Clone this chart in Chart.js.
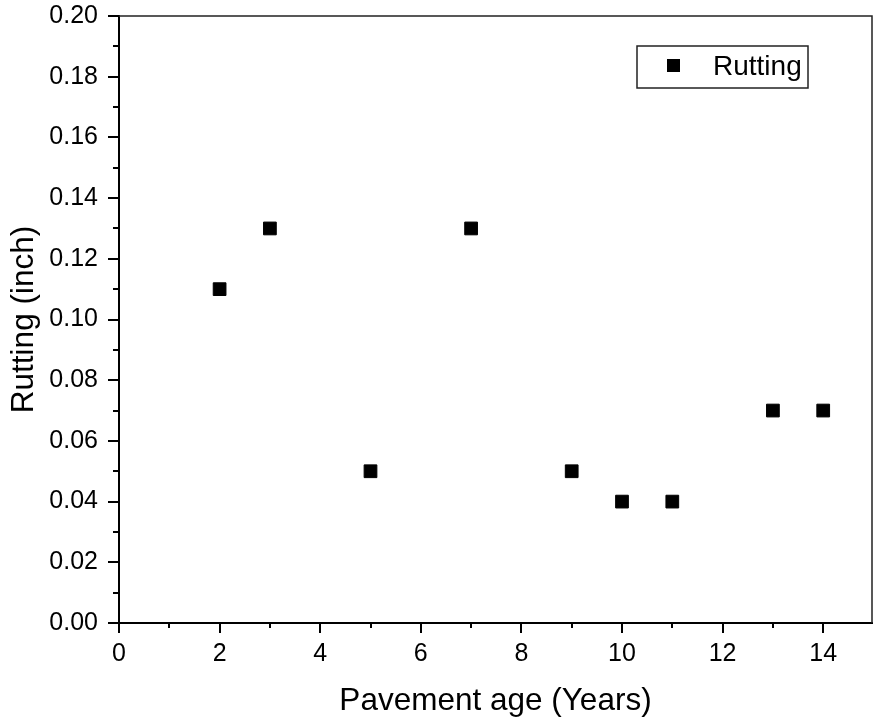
<!DOCTYPE html>
<html>
<head>
<meta charset="utf-8">
<script src="https://cdn.jsdelivr.net/npm/chart.js@4.4.1/dist/chart.umd.min.js"></script>
<style>
  html, body { margin: 0; padding: 0; background: #fff; }
  #wrap { width: 873px; height: 723px; position: relative; }
</style>
</head>
<body>
<div id="wrap"><canvas id="c" width="873" height="723"></canvas></div>
<script>
// Pavement age (years) and measured rutting depth (inch)
const ages = [2, 3, 5, 7, 9, 10, 11, 13, 14];
const rutting = [0.11, 0.13, 0.05, 0.13, 0.05, 0.04, 0.04, 0.07, 0.07];
const seriesName = 'Rutting';

// Axis ticks
const xMajor = [0, 2, 4, 6, 8, 10, 12, 14];
const xMinor = [1, 3, 5, 7, 9, 11, 13];
const yMajor = [0, 0.02, 0.04, 0.06, 0.08, 0.10, 0.12, 0.14, 0.16, 0.18, 0.20];
const yMinor = [0.01, 0.03, 0.05, 0.07, 0.09, 0.11, 0.13, 0.15, 0.17, 0.19];

const FONT = '"Liberation Sans", Arial, Helvetica, sans-serif';

// Frame (top/right), minor ticks and the boxed legend
const framePlugin = {
  id: 'frame',
  afterDraw(chart) {
    const ctx = chart.ctx;
    const a = chart.chartArea;
    const xs = chart.scales.x, ys = chart.scales.y;
    ctx.save();
    ctx.strokeStyle = '#222';
    ctx.lineWidth = 1.5;
    ctx.beginPath();
    ctx.moveTo(a.left, a.top);
    ctx.lineTo(a.right, a.top);
    ctx.lineTo(a.right, a.bottom);
    ctx.stroke();

    ctx.strokeStyle = '#000';
    ctx.lineWidth = 2;
    ctx.beginPath();
    xMinor.forEach(v => {
      const px = Math.round(xs.getPixelForValue(v));
      ctx.moveTo(px, a.bottom);
      ctx.lineTo(px, a.bottom + 5);
    });
    yMinor.forEach(v => {
      const py = Math.round(ys.getPixelForValue(v));
      ctx.moveTo(a.left, py);
      ctx.lineTo(a.left - 6, py);
    });
    ctx.stroke();

    // legend
    ctx.lineWidth = 1.5;
    ctx.strokeStyle = '#222';
    ctx.strokeRect(637, 46, 171, 42);
    ctx.fillStyle = '#000';
    ctx.fillRect(667, 59, 13, 13);
    ctx.font = '28px ' + FONT;
    ctx.textBaseline = 'alphabetic';
    ctx.textAlign = 'left';
    ctx.fillText(chart.data.datasets[0].label, 713, 75);
    ctx.restore();
  }
};

new Chart(document.getElementById('c'), {
  type: 'scatter',
  data: {
    datasets: [{
      label: seriesName,
      data: ages.map((a, i) => ({ x: a, y: rutting[i] })),
      pointStyle: 'rect',
      pointRadius: 9,
      pointHoverRadius: 9,
      backgroundColor: '#000',
      borderColor: '#000',
      borderWidth: 1
    }]
  },
  options: {
    responsive: false,
    animation: false,
    events: [],
    layout: { autoPadding: false, padding: { top: 16, right: 1, left: 0, bottom: 0 } },
    plugins: { legend: { display: false }, tooltip: { enabled: false } },
    scales: {
      x: {
        type: 'linear',
        min: 0,
        max: 14.97,
        afterBuildTicks: s => { s.ticks = xMajor.map(v => ({ value: v })); },
        afterFit: s => { s.height = 100; s.paddingLeft = 0; s.paddingRight = 0; },
        ticks: {
          color: '#000',
          font: { family: FONT, size: 25 },
          padding: 6,
          maxRotation: 0,
          callback: v => String(v)
        },
        grid: {
          display: true,
          drawOnChartArea: false,
          drawTicks: true,
          tickLength: 10,
          lineWidth: 2,
          color: '#000'
        },
        border: { display: true, width: 2, color: '#000' },
        title: {
          display: true,
          text: 'Pavement age (Years)',
          color: '#000',
          font: { family: FONT, size: 31.5 },
          padding: { top: 0, bottom: 3 }
        }
      },
      y: {
        type: 'linear',
        min: 0,
        max: 0.2,
        afterBuildTicks: s => { s.ticks = yMajor.map(v => ({ value: v })); },
        afterFit: s => { s.width = 119; s.paddingTop = 0; s.paddingBottom = 0; },
        ticks: {
          color: '#000',
          font: { family: FONT, size: 25 },
          padding: 10,
          callback: v => Number(v).toFixed(2)
        },
        grid: {
          display: true,
          drawOnChartArea: false,
          drawTicks: true,
          tickLength: 11,
          lineWidth: 2,
          color: '#000'
        },
        border: { display: true, width: 2, color: '#000' },
        title: {
          display: true,
          text: 'Rutting (inch)',
          color: '#000',
          font: { family: FONT, size: 31.5 },
          padding: { top: 5, bottom: 0 }
        }
      }
    }
  },
  plugins: [framePlugin]
});
</script>
</body>
</html>
